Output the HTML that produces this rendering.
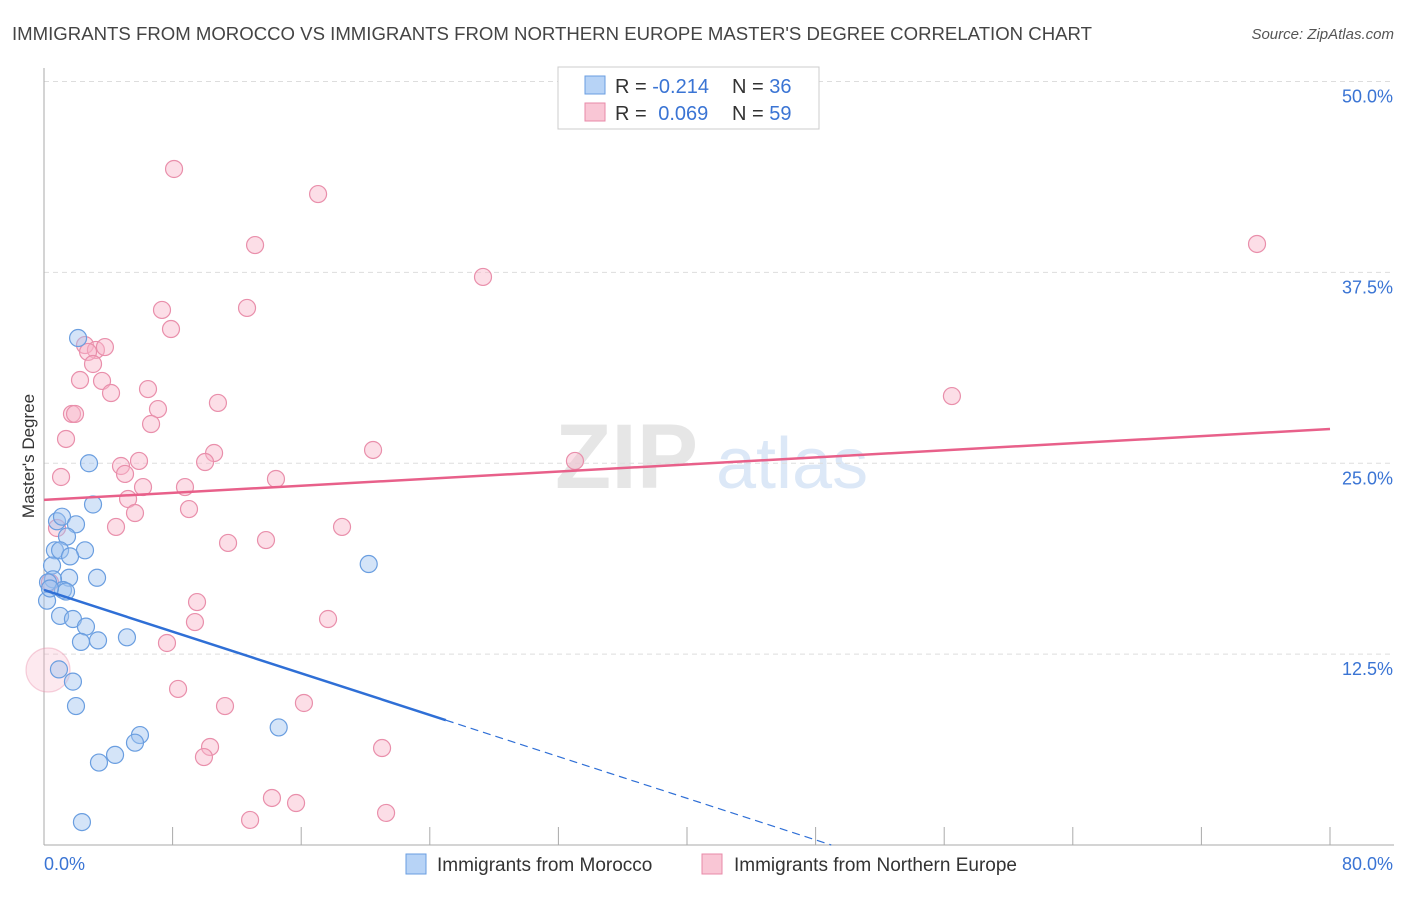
<!DOCTYPE html>
<html><head><meta charset="utf-8"><style>
body{margin:0;background:#fff;font-family:"Liberation Sans",sans-serif;}
svg text{font-family:"Liberation Sans",sans-serif;}
</style></head><body>
<svg id="chart" width="1406" height="892" viewBox="0 0 1406 892" xmlns="http://www.w3.org/2000/svg">
<text x="12" y="40" font-size="18.6" fill="#444">IMMIGRANTS FROM MOROCCO VS IMMIGRANTS FROM NORTHERN EUROPE MASTER'S DEGREE CORRELATION CHART</text>
<text x="1394" y="39" font-size="15" fill="#555" text-anchor="end" font-style="italic">Source: ZipAtlas.com</text>
<g>
<text x="555" y="488" font-size="92" fill="#e6e6e6" font-family="Liberation Serif" font-weight="bold">ZIP</text>
<text x="716" y="488" font-size="72" fill="#dce8f7">atlas</text>
</g>
<g id="grid"></g>
<g id="axes"></g>
<text transform="translate(34,456) rotate(-90)" font-size="17" fill="#333" text-anchor="middle">Master's Degree</text>
<g id="marks"></g>
<g>
<rect x="558" y="67" width="261" height="62" fill="#fff" stroke="#ccc"/>
<rect x="585" y="76" width="20" height="18" fill="#b7d3f6" stroke="#6a9ee0"/>
<rect x="585" y="103" width="20" height="18" fill="#f9c6d5" stroke="#e88aa8"/>
<text x="615" y="93" font-size="20" fill="#333">R = <tspan fill="#3a74d4">-0.214</tspan></text>
<text x="732" y="93" font-size="20" fill="#333">N = <tspan fill="#3a74d4">36</tspan></text>
<text x="615" y="120" font-size="20" fill="#333">R = <tspan fill="#3a74d4" dx="6">0.069</tspan></text>
<text x="732" y="120" font-size="20" fill="#333">N = <tspan fill="#3a74d4">59</tspan></text>
</g>
<g>
<rect x="406" y="854" width="20" height="20" fill="#b7d3f6" stroke="#6a9ee0"/>
<text x="437" y="871" font-size="19" fill="#333">Immigrants from Morocco</text>
<rect x="702" y="854" width="20" height="20" fill="#f9c6d5" stroke="#e88aa8"/>
<text x="734" y="871" font-size="19" fill="#333">Immigrants from Northern Europe</text>
</g>
</svg>
<script>
const blueX=[2.12,2.80,3.05,0.81,1.12,1.99,1.43,0.68,1.0,2.55,1.62,0.5,1.56,3.3,0.56,0.25,1.18,1.37,0.19,1.0,1.8,2.61,2.3,3.36,5.16,20.2,0.93,1.8,1.99,14.6,5.97,5.66,4.42,3.42,2.36,0.37];
const blueY=[33.2,25.0,22.3,21.2,21.5,21.0,20.2,19.3,19.3,19.3,18.9,18.3,17.5,17.5,17.4,17.2,16.7,16.6,16.0,15.0,14.8,14.3,13.3,13.4,13.6,18.4,11.5,10.7,9.1,7.7,7.2,6.7,5.9,5.4,1.5,16.8];
const pinkX=[8.09,17.05,13.13,75.46,27.31,7.34,12.63,7.9,2.55,3.23,3.79,2.74,3.05,2.24,3.61,4.17,6.47,10.82,7.09,1.74,1.93,6.66,1.37,10.58,20.47,56.48,5.91,4.79,10.02,5.04,1.06,33.03,14.43,6.16,8.77,5.23,9.02,5.66,4.48,18.54,0.81,11.45,13.81,9.52,9.39,17.67,7.65,8.34,11.26,16.17,10.33,21.03,9.95,14.18,15.68,12.82,21.28,0.25,0.37];
const pinkY=[44.27,42.63,39.29,39.36,37.2,35.04,35.17,33.79,32.74,32.42,32.61,32.29,31.5,30.45,30.39,29.6,29.86,28.95,28.55,28.23,28.23,27.57,26.59,25.67,25.87,29.4,25.15,24.82,25.08,24.3,24.1,25.15,23.97,23.44,23.44,22.66,22.0,21.74,20.83,20.83,20.76,19.78,19.97,15.91,14.6,14.8,13.23,10.22,9.1,9.3,6.42,6.35,5.76,3.08,2.75,1.64,2.1,11.46,17.2];
const pinkBig=[57];
const blueTrend=[16.7,-0.341];
const pinkTrend=[22.6,0.058];
const yTicks=[12.5,25.0,37.5,50.0];
const yTickLabels=["12.5%","25.0%","37.5%","50.0%"];
const xTicks=[0,8,16,24,32,40,48,56,64,72,80];
const NS="http://www.w3.org/2000/svg";
const X=v=>44+v*16.075;
const Y=v=>845-v*15.27;
function mk(tag,attrs,parent){const e=document.createElementNS(NS,tag);for(const k in attrs)e.setAttribute(k,attrs[k]);parent.appendChild(e);return e;}
const grid=document.getElementById('grid'),axes=document.getElementById('axes'),marks=document.getElementById('marks');
yTicks.forEach((t,i)=>{
 const l=mk('line',{x1:44,x2:1394,y1:Y(t),y2:Y(t),stroke:'#ddd','stroke-dasharray':'5,4'},grid);
 
 
 const tx=mk('text',{x:1393,y:Y(t)+21,'font-size':18,fill:'#3a74d4','text-anchor':'end'},axes);
 tx.textContent=yTickLabels[i];
 
 
});
const ax=mk('line',{x1:44,x2:44,y1:68,y2:845,stroke:'#aaa'},axes);


const bx=mk('line',{x1:44,x2:1394,y1:845,y2:845,stroke:'#aaa'},axes);


xTicks.forEach(t=>{
 const l=mk('line',{x1:X(t),x2:X(t),y1:827,y2:845,stroke:'#aaa'},axes);
 
 
});
const xl0=mk('text',{x:44,y:870,'font-size':18,fill:'#3a74d4'},axes);xl0.textContent='0.0%';


const xl1=mk('text',{x:1393,y:870,'font-size':18,fill:'#3a74d4','text-anchor':'end'},axes);xl1.textContent='80.0%';


pinkX.forEach((x,i)=>{
 const big=pinkBig.includes(i);
 const c=mk('circle',{cx:X(x),cy:Y(pinkY[i]),r:big?22:8.5,fill:big?'rgba(248,182,202,0.3)':'rgba(248,182,202,0.45)',stroke:big?'rgba(233,143,171,0.4)':'#e98fab','stroke-width':1.2},marks);
 
 
});
blueX.forEach((x,i)=>{
 const c=mk('circle',{cx:X(x),cy:Y(blueY[i]),r:8.5,fill:'rgba(160,196,240,0.45)',stroke:'#6a9ee0','stroke-width':1.2},marks);
 
 
});
const pt=mk('line',{x1:X(0),y1:Y(pinkTrend[0]),x2:X(80),y2:Y(pinkTrend[0]+pinkTrend[1]*80),stroke:'#e8608a','stroke-width':2.5},marks);


const bt=mk('line',{x1:X(0),y1:Y(blueTrend[0]),x2:X(25),y2:Y(blueTrend[0]+blueTrend[1]*25),stroke:'#2f6fd6','stroke-width':2.5},marks);


const xe=-blueTrend[0]/blueTrend[1];
const bd=mk('line',{x1:X(25),y1:Y(blueTrend[0]+blueTrend[1]*25),x2:X(xe),y2:Y(0),stroke:'#2f6fd6','stroke-width':1.2,'stroke-dasharray':'8,5'},marks);


</script>
</body></html>
